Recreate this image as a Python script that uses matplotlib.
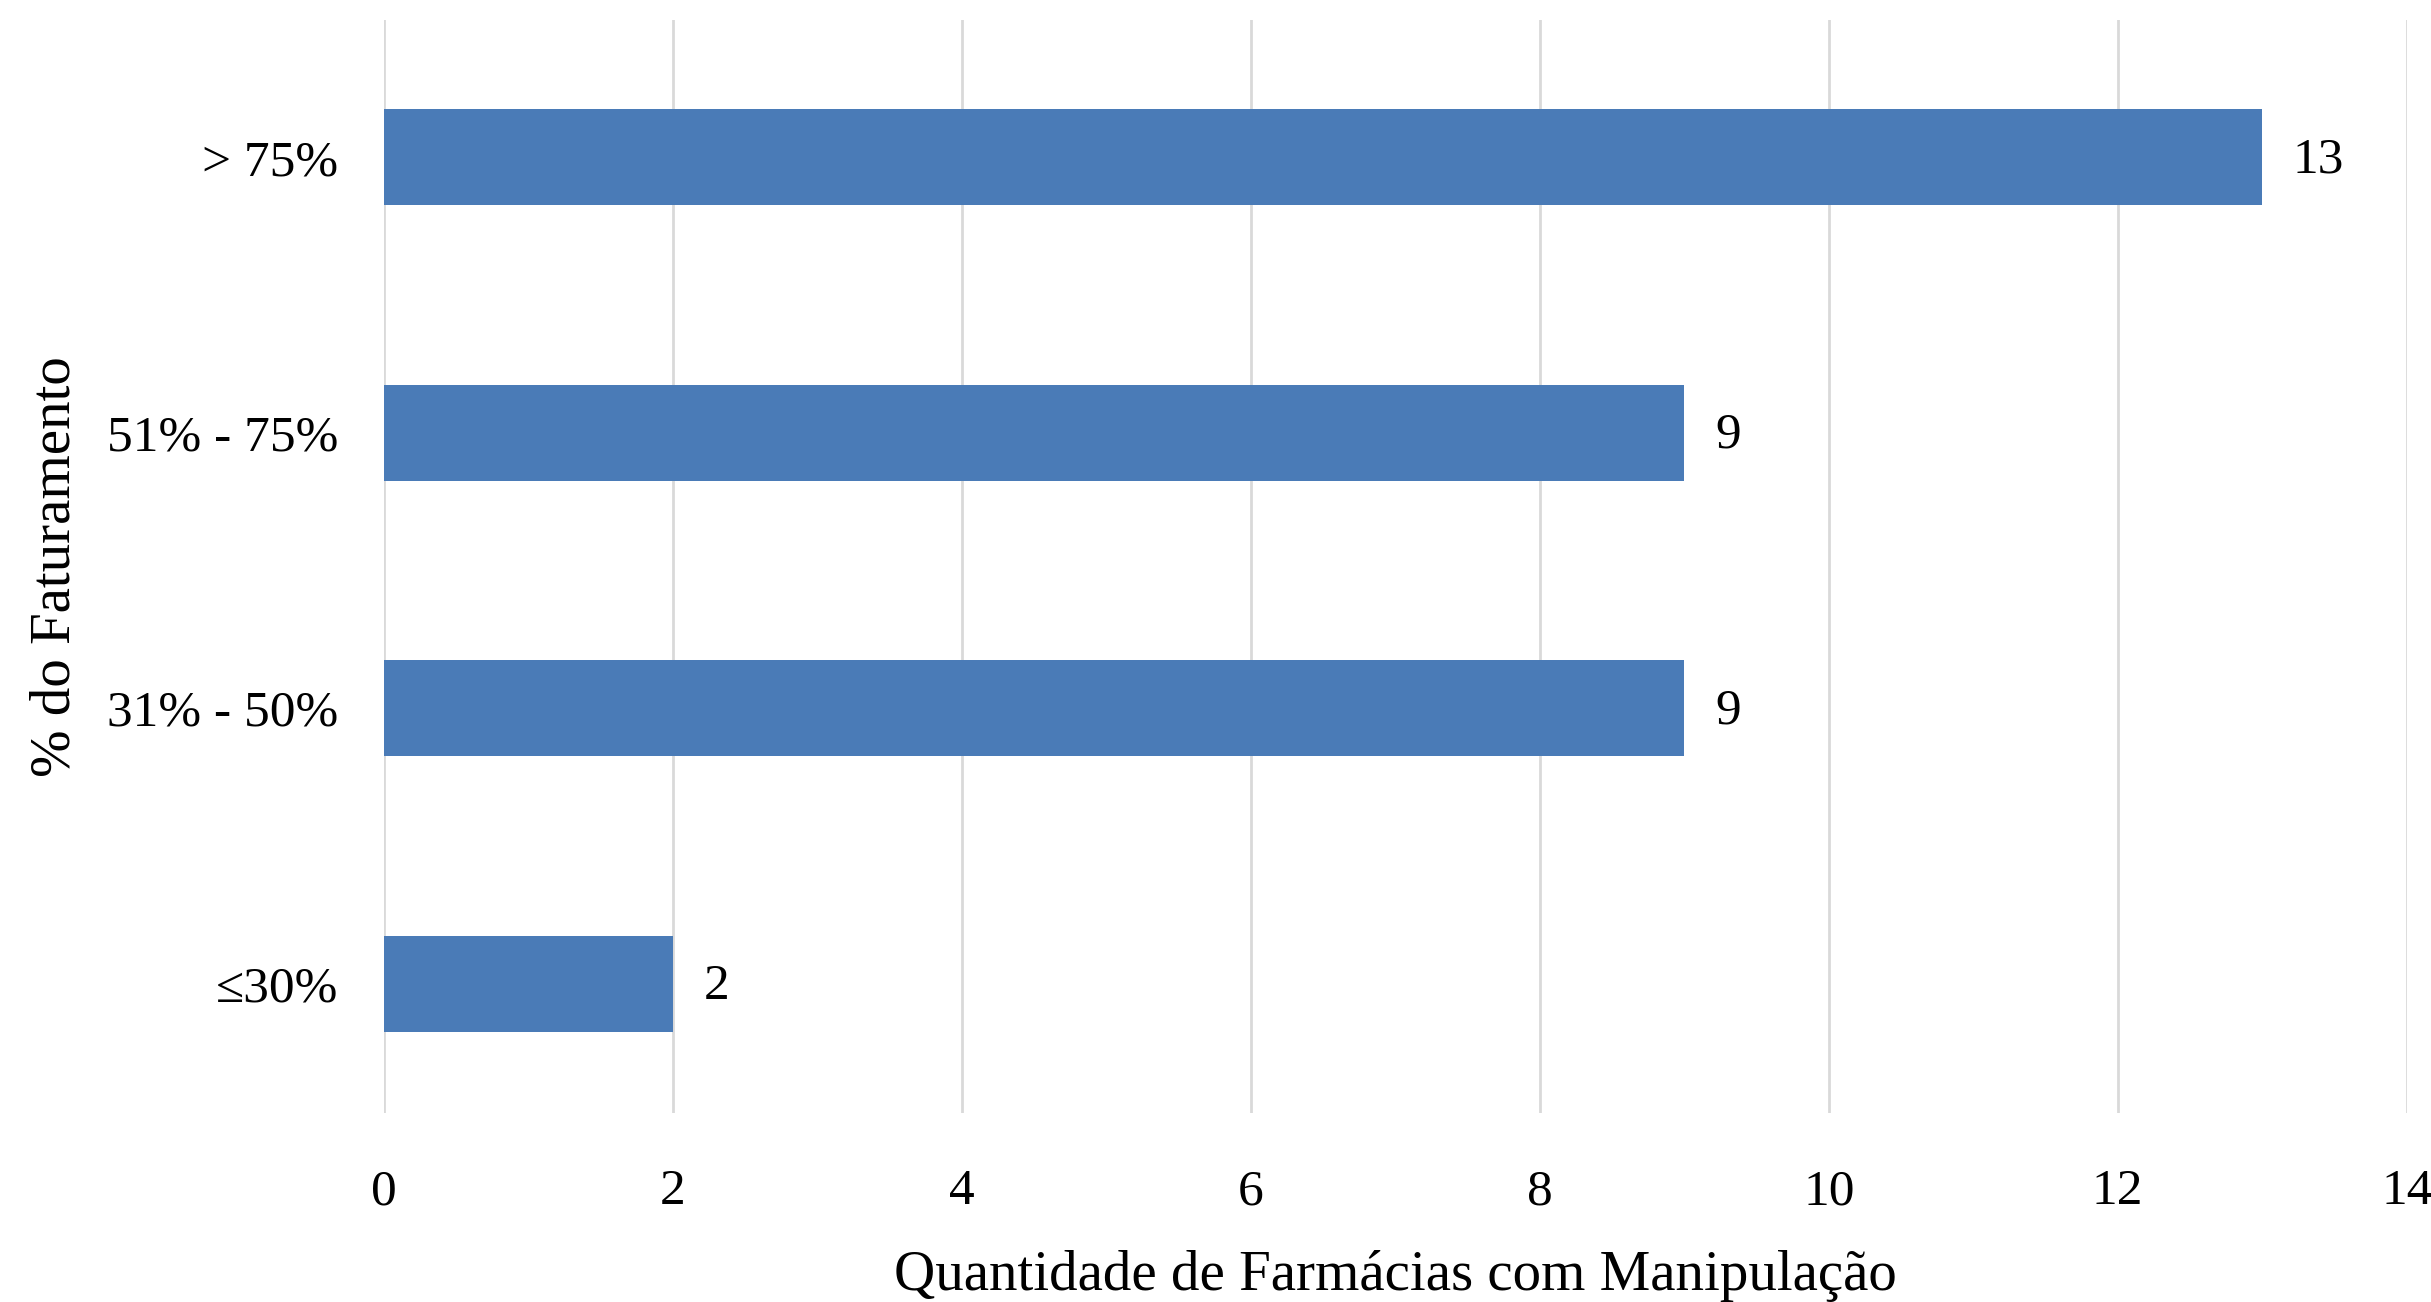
import numpy as np
import matplotlib
matplotlib.use("Agg")
import matplotlib.pyplot as plt

# dados
categorias = ['≤30%', '31% - 50%', '51% - 75%', '> 75%']
quantidades = [2, 9, 9, 13]
xticks = [0, 2, 4, 6, 8, 10, 12, 14]

plt.rcParams['font.family'] = ['Liberation Serif', 'DejaVu Serif']

fig = plt.figure(figsize=(24.31, 13.02), dpi=100)
ax = fig.add_axes([0.158, 0.145, 0.832, 0.840])

y = np.arange(len(categorias))
ax.barh(y, quantidades, height=0.35, color='#4a7bb7', zorder=2)

# rotulos das barras
for yi, q in zip(y, quantidades):
    ax.annotate(str(q), xy=(q, yi), xytext=(22, -2), textcoords='offset points',
                va='center', ha='left', fontsize=37)

ax.set_xlim(0, 14)
ax.set_ylim(-0.47, 3.5)
ax.set_xticks(xticks)
ax.set_yticks(y)
ax.set_yticklabels(categorias)
ax.grid(axis='x', color='#d9d9d9', linewidth=2, zorder=0)
ax.set_axisbelow(True)
for s in ax.spines.values():
    s.set_visible(False)
ax.tick_params(axis='both', length=0, labelsize=37)
ax.tick_params(axis='x', pad=40)
ax.tick_params(axis='y', pad=33)

ax.set_xlabel('Quantidade de Farmácias com Manipulação', fontsize=41, labelpad=25)
ax.set_ylabel('% do Faturamento', fontsize=41, labelpad=18)

fig.savefig('out.png', dpi=100)
